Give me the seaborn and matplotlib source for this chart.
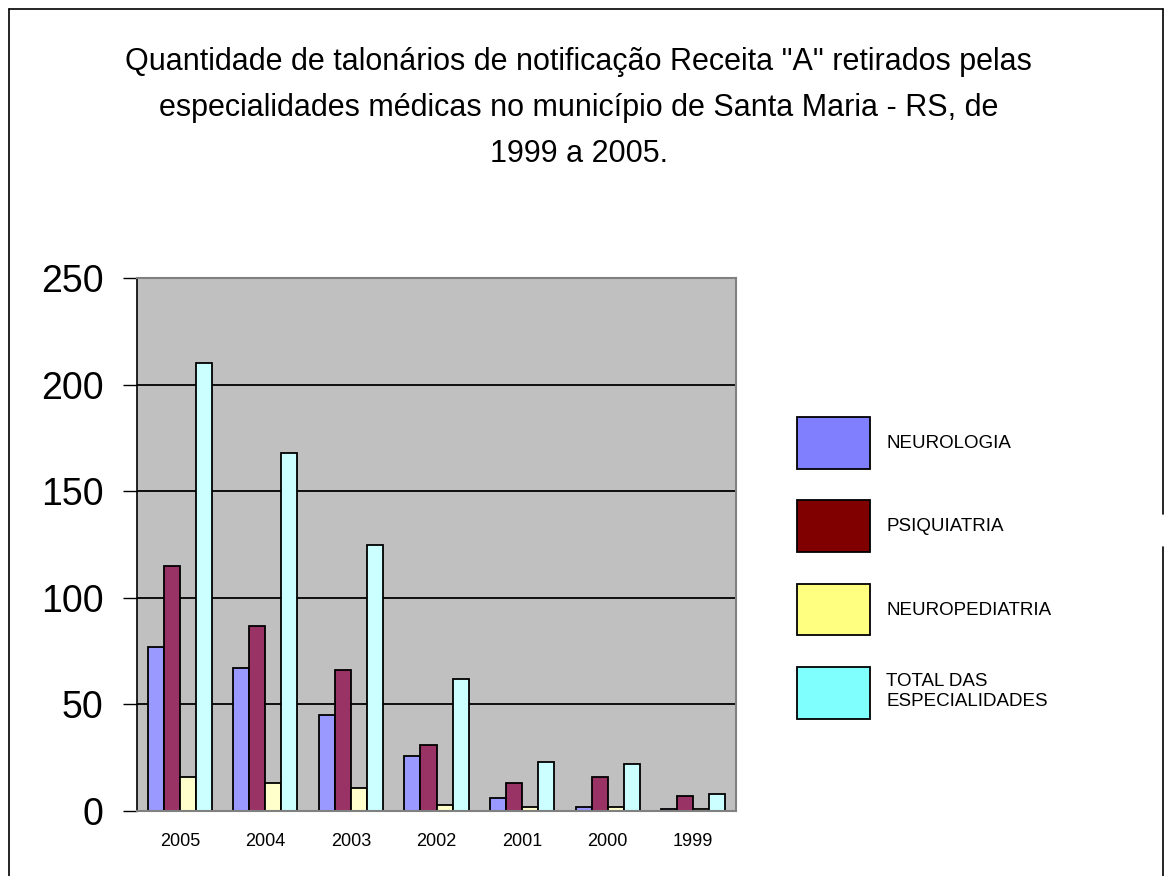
import pandas as pd
import matplotlib
matplotlib.use("Agg")
import matplotlib.pyplot as plt
import seaborn as sns
from matplotlib.patches import Patch
from matplotlib.lines import Line2D

# dados
anos = ["2005", "2004", "2003", "2002", "2001", "2000", "1999"]
neurologia = [77, 67, 45, 26, 6, 2, 1]
psiquiatria = [115, 87, 66, 31, 13, 16, 7]
neuropediatria = [16, 13, 11, 3, 2, 2, 1]
total = [210, 168, 125, 62, 23, 22, 8]

series = ["NEUROLOGIA", "PSIQUIATRIA", "NEUROPEDIATRIA", "TOTAL DAS\nESPECIALIDADES"]
bar_colors = ["#9999FF", "#993366", "#FFFFCC", "#CCFFFF"]
legend_colors = ["#8080FF", "#800000", "#FFFF80", "#80FFFF"]

df = pd.DataFrame({
    "ano": anos * 4,
    "valor": neurologia + psiquiatria + neuropediatria + total,
    "serie": [s for s in series for _ in anos],
})

sns.set_style("white")
plt.rcParams["font.family"] = ["Liberation Sans", "DejaVu Sans"]
plt.rcParams["text.color"] = "black"
plt.rcParams["xtick.color"] = "black"
plt.rcParams["ytick.color"] = "black"

fig = plt.figure(figsize=(11.67, 8.76), dpi=100)
ax = fig.add_axes([137 / 1167, 1 - 811 / 876, (736 - 137) / 1167, (811 - 278) / 876])

sns.barplot(data=df, x="ano", y="valor", hue="serie", order=anos, hue_order=series,
            palette=bar_colors, width=0.75, edgecolor="black", linewidth=1.3,
            saturation=1, legend=False, ax=ax)

ax.set_facecolor("#C0C0C0")
ax.set_ylim(0, 250)
ax.set_yticks([0, 50, 100, 150, 200, 250])
ax.yaxis.grid(True, color="black", linewidth=1.3)
ax.set_axisbelow(True)
ax.set_xlabel("")
ax.set_ylabel("")
ax.tick_params(axis="y", labelsize=27, length=10, width=1, color="black", pad=14, left=True)
ax.tick_params(axis="x", labelsize=13, length=0, pad=16)
for side in ["top", "right", "bottom"]:
    ax.spines[side].set_color("#808080")
    ax.spines[side].set_linewidth(1.5)
ax.spines["left"].set_color("black")
ax.spines["left"].set_linewidth(1.2)

# titulo
fig.text(0.496, 1 - 108 / 876,
         'Quantidade de talonários de notificação Receita "A" retirados pelas\n'
         'especialidades médicas no município de Santa Maria - RS, de\n'
         '1999 a 2005.',
         ha="center", va="center", fontsize=22, linespacing=1.68, color="black")

# legenda
handles = [Patch(facecolor=c, edgecolor="black", linewidth=1.3) for c in legend_colors]
fig.legend(handles, series, loc="upper left", bbox_to_anchor=(797 / 1167, 1 - 417 / 876),
           frameon=False, fontsize=13.5, handlelength=3.9, handleheight=3.85,
           labelspacing=1.7, handletextpad=0.85, borderpad=0, borderaxespad=0)

# moldura
fig.add_artist(Line2D([9 / 1167, 9 / 1167], [1 - 9 / 876, 0], color="black", lw=1.2))
fig.add_artist(Line2D([9 / 1167, 1163 / 1167], [1 - 9 / 876, 1 - 9 / 876], color="black", lw=1.2))
fig.add_artist(Line2D([1163 / 1167, 1163 / 1167], [1 - 9 / 876, 1 - 514 / 876], color="black", lw=1.2))
fig.add_artist(Line2D([1163 / 1167, 1163 / 1167], [1 - 547 / 876, 0], color="black", lw=1.2))

fig.savefig("out.png", dpi=100)
